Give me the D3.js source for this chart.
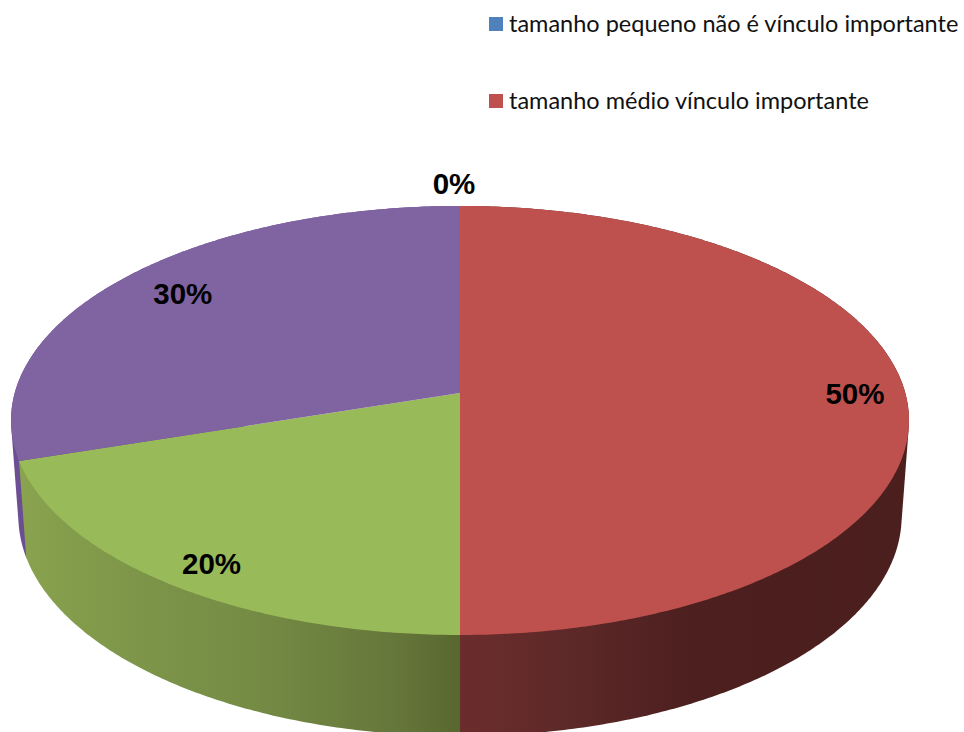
<!DOCTYPE html>
<html>
<head>
<meta charset="utf-8">
<script src="https://cdn.jsdelivr.net/npm/d3@7"></script>
<style>
  html, body { margin: 0; padding: 0; background: #fff; }
  svg { display: block; }
</style>
</head>
<body>
<div id="chart"></div>
<script>
const categories = [
  'tamanho pequeno não é vínculo importante',
  'tamanho médio vínculo importante',
  'tamanho grande vínculo importante',
  'outros'
]
const values = [0, 50, 20, 30]
const labels = ['0%', '50%', '20%', '30%']
const legendCategories = categories.slice(0, 2)

const colors = ['#4f81bd', '#be504d', '#99ba58', '#8064a2']

const width = 964, height = 732

// perspective of the tilted disc: top face and base share the same k
const k = 0.128
const cx = 460
const topFace = { X: 445.3, Y: 211, y0: 393 }
const baseFace = { X: 438, Y: 216.4, y0: 488 }

// where each percent label sits, fraction of the radius plus a small nudge
const labelRadius = [1.13, 0.888, 0.88, 0.82]
const labelDx = [-6, -0.5, 5, 1]
const labelDy = [-1, 0, 5, -4]

const sideStops = [
  [[11, '#6b4f92'], [460, '#6b4f92']],
  [[460, '#6b2d2c'], [560, '#5f2929'], [690, '#4d1f1f'], [910, '#4b1f1e']],
  [[18, '#8aa34f'], [120, '#7e9749'], [250, '#758c45'], [400, '#65763a'], [460, '#57672f']],
]

function project(face, angle, r) {
  const u = r * Math.sin(angle), v = -r * Math.cos(angle)
  const w = 1 - k * v
  return [cx + face.X * u / w, face.y0 + face.Y * v / w]
}

function rim(face, a0, a1) {
  const n = Math.max(2, Math.ceil(Math.abs(a1 - a0) / 0.01))
  return d3.range(n + 1).map(i => project(face, a0 + (a1 - a0) * i / n, 1))
}

const line = d3.line()
const pie = d3.pie().sort(null)
const arcs = pie(values)

const svg = d3.select('#chart').append('svg')
    .attr('width', width)
    .attr('height', height)

const defs = svg.append('defs')

// sides, back to front. only the purple, red and green ones show
const sides = [
  { arc: arcs[3], stops: sideStops[0] },
  { arc: arcs[1], stops: sideStops[1] },
  { arc: arcs[2], stops: sideStops[2] },
]

sides.forEach((s, i) => {
  const x0 = s.stops[0][0], x1 = s.stops[s.stops.length - 1][0]
  const grad = defs.append('linearGradient')
      .attr('id', 'side' + i)
      .attr('gradientUnits', 'userSpaceOnUse')
      .attr('x1', x0).attr('x2', x1)
      .attr('y1', 0).attr('y2', 0)
  grad.selectAll('stop')
    .data(s.stops)
    .enter().append('stop')
      .attr('offset', d => (d[0] - x0) / (x1 - x0))
      .attr('stop-color', d => d[1])
})

// hull so the wall follows the tangent between the two rims
svg.append('g')
  .selectAll('path')
  .data(sides)
  .enter().append('path')
    .attr('fill', (d, i) => 'url(#side' + i + ')')
    .attr('d', d => line(d3.polygonHull(rim(topFace, d.arc.startAngle, d.arc.endAngle)
      .concat(rim(baseFace, d.arc.startAngle, d.arc.endAngle)))) + 'Z')

svg.append('g')
  .selectAll('path')
  .data(arcs)
  .enter().append('path')
    .attr('fill', (d, i) => colors[i])
    .attr('d', d => line([project(topFace, 0, 0)]
      .concat(rim(topFace, d.startAngle, d.endAngle))) + 'Z')

svg.append('g')
    .attr('font-family', '"Liberation Sans", Arial, sans-serif')
    .attr('font-weight', 'bold')
    .attr('font-size', 29.5)
    .attr('fill', '#000')
    .attr('text-anchor', 'middle')
  .selectAll('text')
  .data(arcs)
  .enter().append('text')
    .attr('x', (d, i) => project(topFace, (d.startAngle + d.endAngle) / 2, labelRadius[i])[0] + labelDx[i])
    .attr('y', (d, i) => project(topFace, (d.startAngle + d.endAngle) / 2, labelRadius[i])[1] + labelDy[i])
    .attr('dy', '0.36em')
    .text((d, i) => labels[i])

const legendY = d3.scalePoint().domain(legendCategories).range([24, 101])

const legend = svg.append('g')
  .selectAll('g')
  .data(legendCategories)
  .enter().append('g')
    .attr('transform', d => 'translate(489,' + legendY(d) + ')')

legend.append('rect')
    .attr('y', -7)
    .attr('width', 14)
    .attr('height', 14)
    .attr('fill', (d, i) => colors[i])

legend.append('text')
    .attr('x', 20)
    .attr('y', 8)
    .attr('font-family', 'Lato, "Open Sans", sans-serif')
    .attr('font-size', 23.5)
    .attr('fill', '#111')
    .text(d => d)
</script>
</body>
</html>
